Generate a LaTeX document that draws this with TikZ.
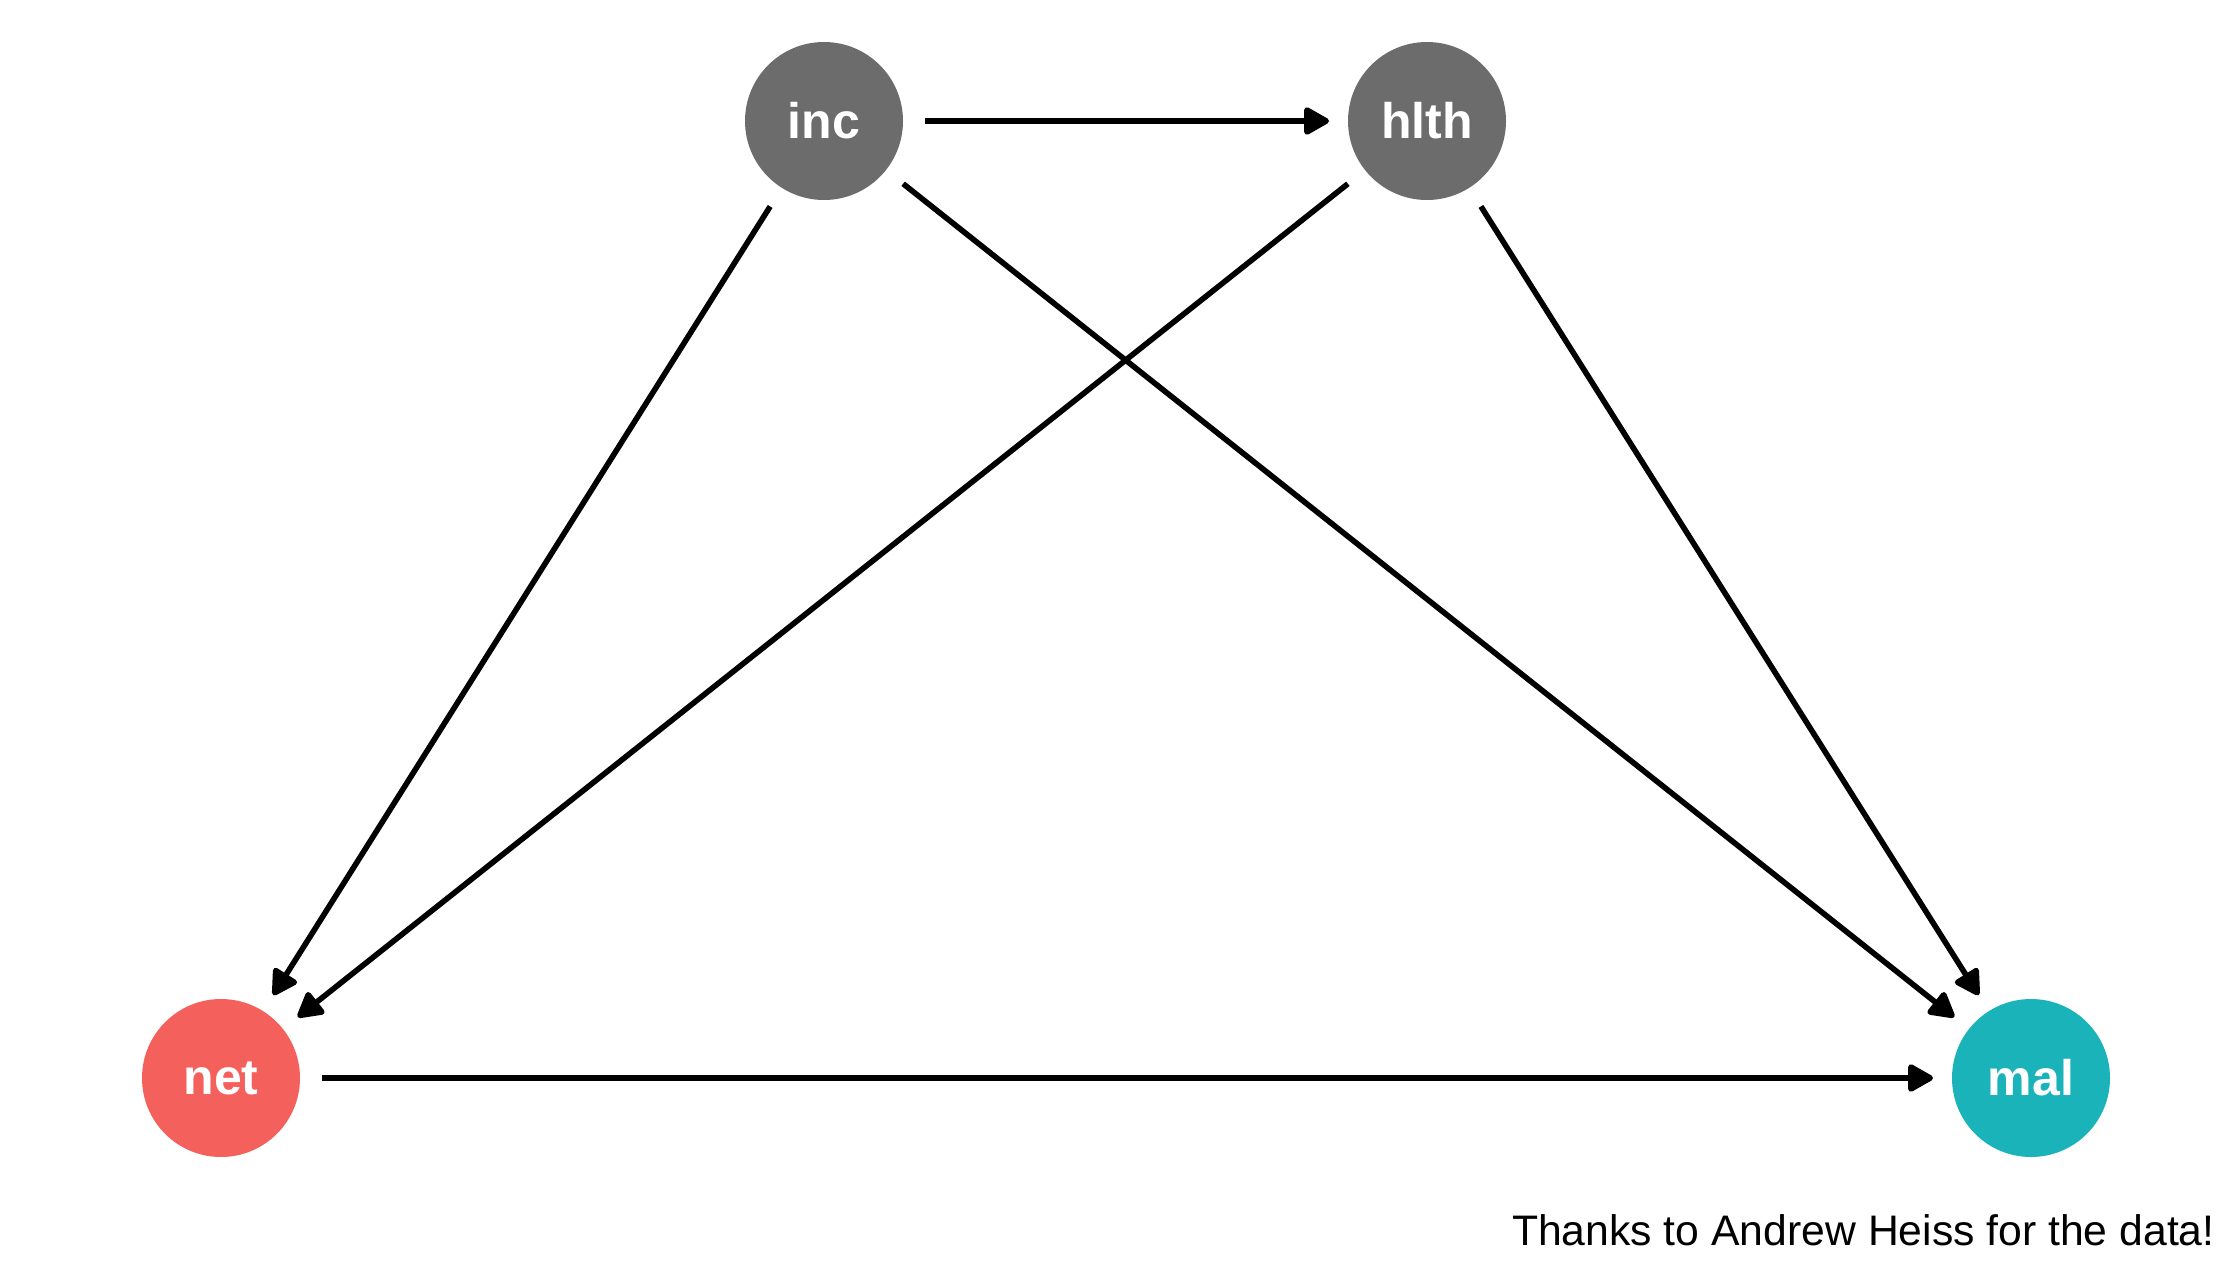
\documentclass[tikz,border=0pt]{standalone}
\usepackage{fontspec}
\setmainfont{Liberation Sans}
\usetikzlibrary{arrows.meta}
\definecolor{nodegrey}{HTML}{6C6C6C}
\definecolor{netred}{HTML}{F4615D}
\definecolor{malteal}{HTML}{1AB3B9}
\tikzset{
  dagnode/.style={circle, minimum size=79pt, inner sep=0pt, outer sep=0pt,
    text=white, font=\fontsize{25}{25}\selectfont\bfseries},
  edge/.style={line width=2.8pt, shorten <=11pt, shorten >=9.5pt,
    -{Triangle[length=14pt,width=15pt,round]}}
}
\begin{document}
\begin{tikzpicture}[x=0.5pt,y=-0.5pt]
\useasboundingbox (0,0) rectangle (2240,1280);
\node[dagnode, fill=nodegrey] (inc) at (824,121) {inc};
\node[dagnode, fill=nodegrey] (hlth) at (1427,121) {hlth};
\node[dagnode, fill=netred] (net) at (221,1078) {net};
\node[dagnode, fill=malteal] (mal) at (2031,1078) {mal};
\draw[edge] (inc) -- (hlth);
\draw[edge] (inc) -- (net);
\draw[edge] (inc) -- (mal);
\draw[edge] (hlth) -- (net);
\draw[edge] (hlth) -- (mal);
\draw[edge] (net) -- (mal);
\node[anchor=base east, inner sep=0pt, font=\fontsize{21.35}{21.35}\selectfont] (credit) at (2215,1245) {Thanks to Andrew Heiss for the data!};
\end{tikzpicture}
\end{document}
